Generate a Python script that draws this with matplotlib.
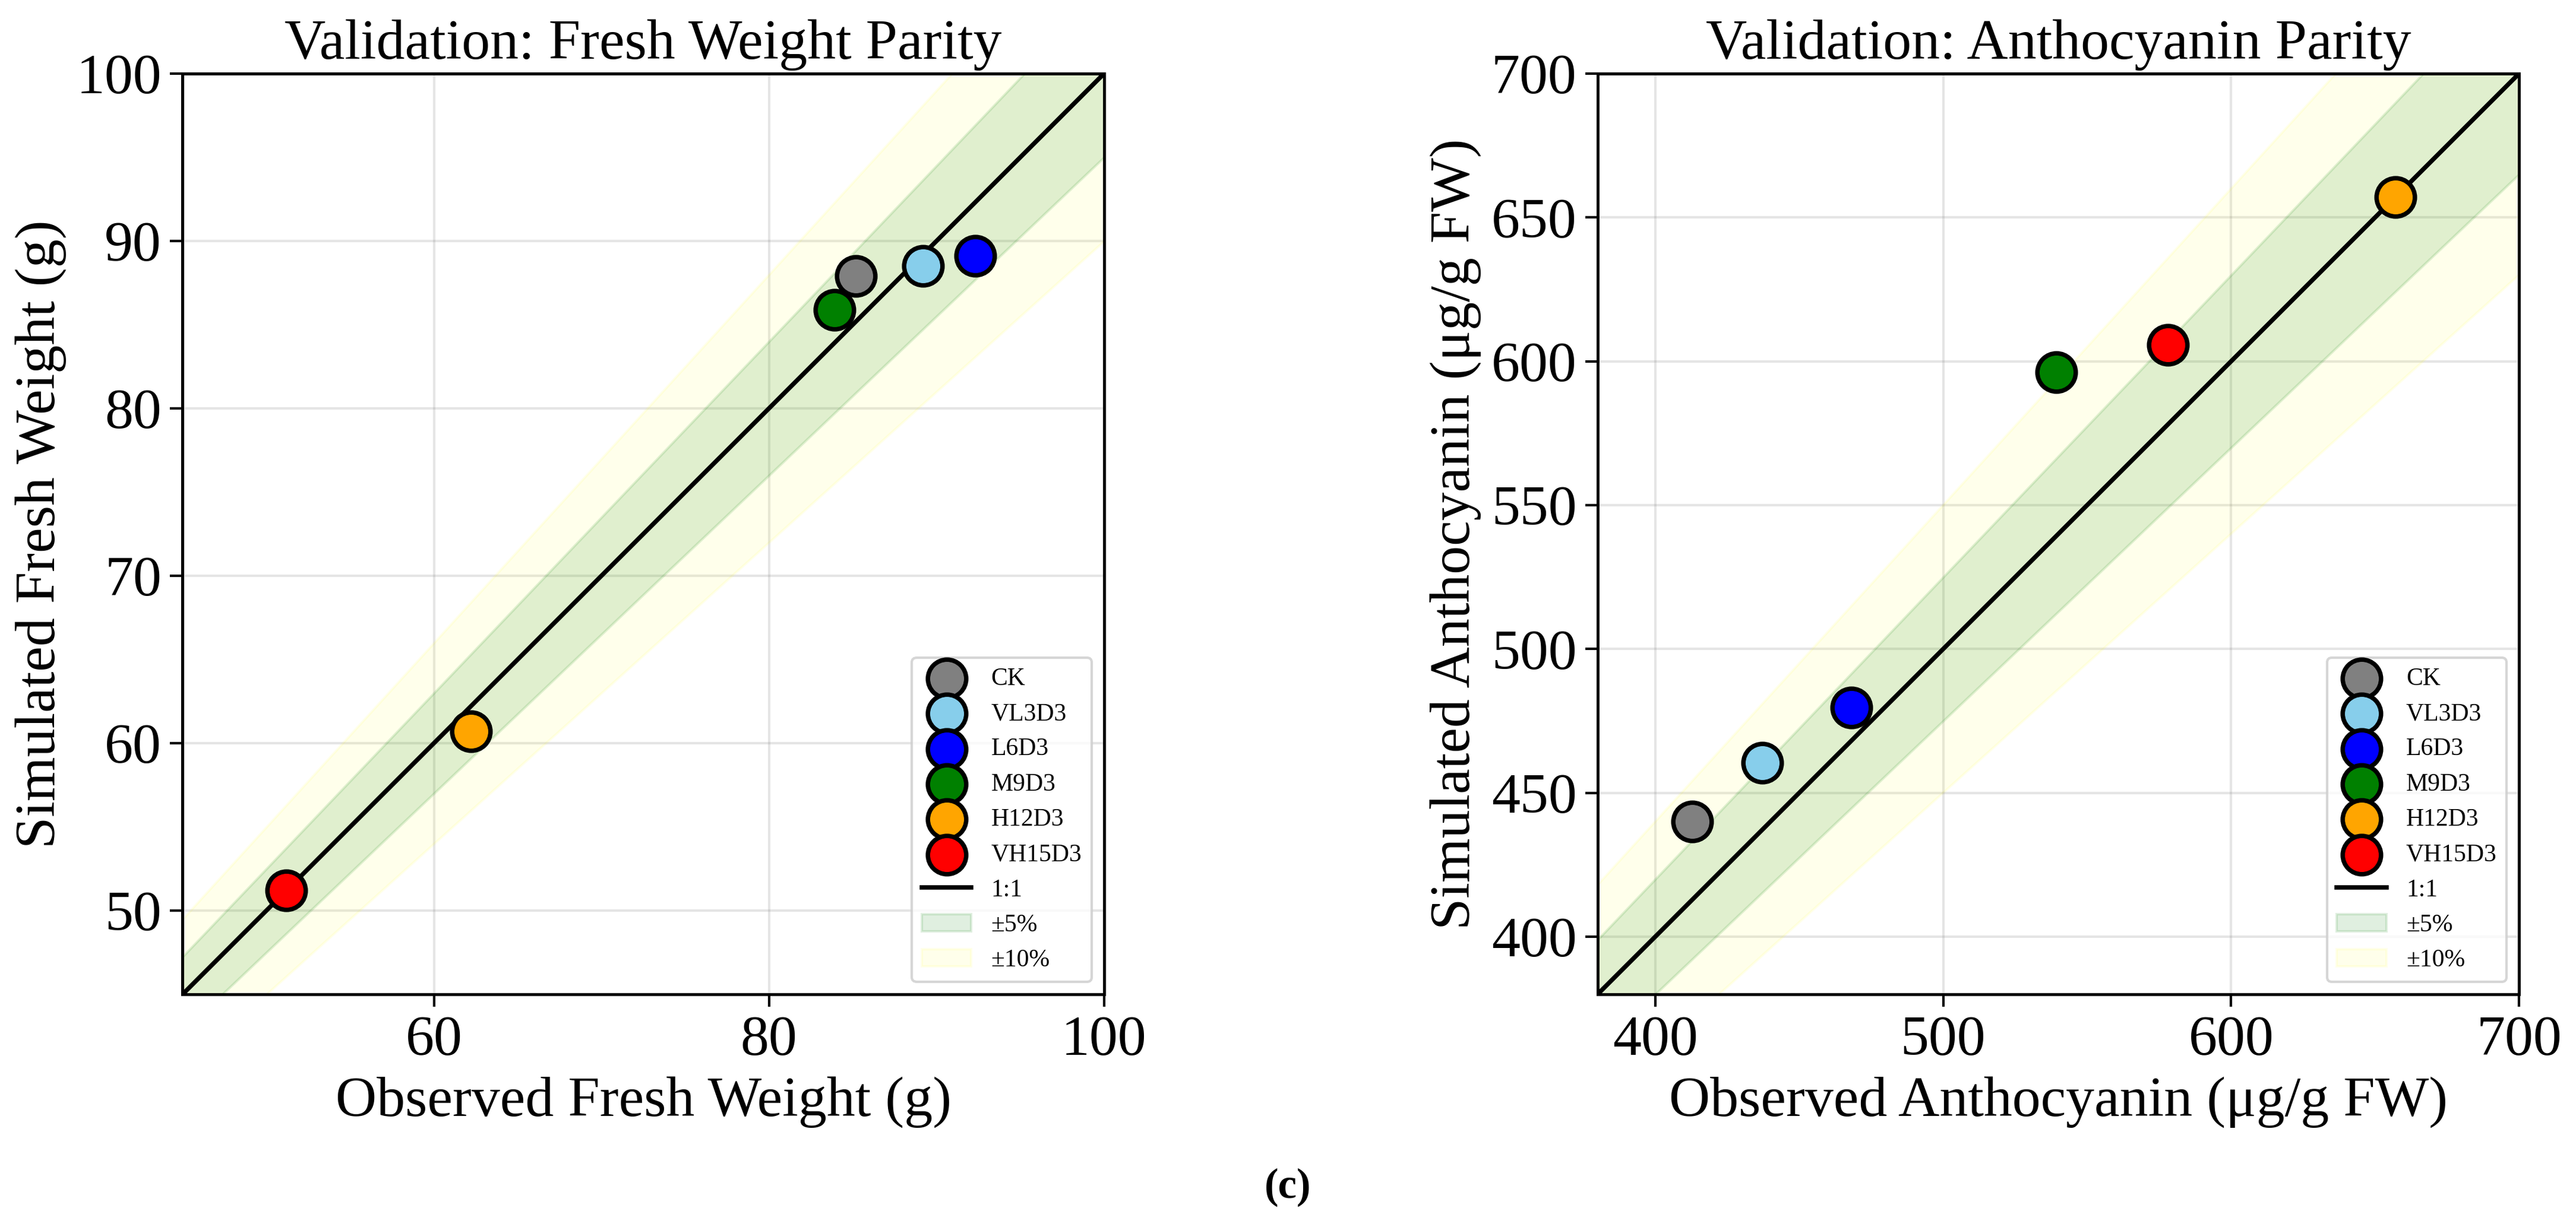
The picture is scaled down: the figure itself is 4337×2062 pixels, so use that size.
import numpy as np
import matplotlib
matplotlib.use('Agg')
import matplotlib.pyplot as plt

plt.rcParams['font.family'] = ['Liberation Serif', 'DejaVu Serif']

treatments = ['CK', 'VL3D3', 'L6D3', 'M9D3', 'H12D3', 'VH15D3']
colors = ['gray', 'skyblue', 'blue', 'green', 'orange', 'red']

# fresh weight (g)
fw_obs = [85.2, 89.2, 92.3, 83.9, 62.2, 51.2]
fw_sim = [87.9, 88.5, 89.1, 85.9, 60.7, 51.2]

# anthocyanin (ug/g FW)
ant_obs = [412.9, 437.2, 468.1, 539.2, 657.0, 578.0]
ant_sim = [440.0, 460.5, 479.7, 596.3, 657.0, 605.6]

FS = 23


def parity(ax, obs, sim, lims, xticks, yticks, title, xlabel, ylabel):
    lo, hi = lims
    x = np.linspace(lo, hi, 200)
    ax.fill_between(x, x * 0.9, x * 1.1, color='yellow', alpha=0.08, label='±10%', zorder=1)
    ax.fill_between(x, x * 0.95, x * 1.05, color='green', alpha=0.12, label='±5%', zorder=1)
    ax.plot([lo, hi], [lo, hi], color='black', lw=1.8, label='1:1', zorder=2)
    for o, s, c, t in zip(obs, sim, colors, treatments):
        ax.scatter(o, s, s=240, color=c, edgecolors='black', linewidths=1.8, label=t, zorder=3)
    ax.set_xlim(lo, hi)
    ax.set_ylim(lo, hi)
    ax.set_xticks(xticks)
    ax.set_yticks(yticks)
    ax.tick_params(labelsize=FS, width=1.0, length=5)
    ax.grid(True, color='gray', alpha=0.2, lw=1)
    ax.set_axisbelow(True)
    for sp in ax.spines.values():
        sp.set_linewidth(1.2)
    ax.set_title(title, fontsize=FS)
    ax.set_xlabel(xlabel, fontsize=FS)
    ax.set_ylabel(ylabel, fontsize=FS)
    h, l = ax.get_legend_handles_labels()
    order = [l.index(t) for t in treatments] + [l.index('1:1'), l.index('±5%'), l.index('±10%')]
    ax.legend([h[i] for i in order], [l[i] for i in order], loc='lower right', fontsize=10)


fig = plt.figure(figsize=(4337 / 300, 2062 / 300), dpi=300)
ax1 = fig.add_axes([0.0709, 0.1877, 0.3577, 0.7522])
ax2 = fig.add_axes([0.6202, 0.1877, 0.3577, 0.7522])

parity(ax1, fw_obs, fw_sim, (45, 100), [60, 80, 100], [50, 60, 70, 80, 90, 100],
       'Validation: Fresh Weight Parity', 'Observed Fresh Weight (g)', 'Simulated Fresh Weight (g)')
parity(ax2, ant_obs, ant_sim, (380, 700), [400, 500, 600, 700], [400, 450, 500, 550, 600, 650, 700],
       'Validation: Anthocyanin Parity', 'Observed Anthocyanin (μg/g FW)', 'Simulated Anthocyanin (μg/g FW)')

fig.text(0.5, 0.03, '(c)', ha='center', va='center', fontsize=17, fontweight='bold')

fig.savefig('out.png', dpi=300)
